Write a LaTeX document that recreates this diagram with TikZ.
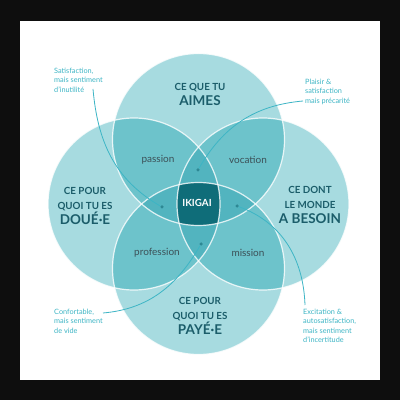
\documentclass[tikz,border=0pt]{standalone}
\usepackage{fontspec}
\setmainfont{Lato}
\usepackage{tikz}
\usetikzlibrary{arrows.meta}
\usetikzlibrary{calc}

\definecolor{ringA}{HTML}{A7DBE0}
\definecolor{ringB}{HTML}{6DC3CB}
\definecolor{ringC}{HTML}{52B4BF}
\definecolor{ringD}{HTML}{0F6D79}
\definecolor{headtxt}{HTML}{1B5D6A}
\definecolor{areatxt}{HTML}{3C5057}
\definecolor{notetxt}{HTML}{3DB5C5}
\definecolor{frame}{HTML}{0E0E0E}

\begin{document}
\begin{tikzpicture}[x=1pt, y=1pt,
  head/.style={align=center, text=headtxt, font=\bfseries\fontsize{9.8}{14.5}\selectfont, inner sep=0},
  area/.style={text=areatxt, font=\fontsize{10}{11}\selectfont, inner sep=0},
  note/.style={align=left, anchor=north west, text=notetxt, font=\fontsize{7.3}{9.3}\selectfont, inner sep=0},
  dot/.style={circle, fill=notetxt!75!black, inner sep=0, minimum size=3.5pt},
  link/.style={notetxt, line width=0.8pt}]

\def\rad{86pt}
\fill[frame] (0,0) rectangle (400,400);
\fill[white] (20,20) rectangle (380,379);

\coordinate (top) at (198.5,260.5);
\coordinate (bot) at (198.5,131.5);
\coordinate (lft) at (134,196);
\coordinate (rgt) at (263,196);

% one circle
\foreach \c in {top,bot,lft,rgt}
  \fill[ringA] (\c) circle[radius=\rad];
% two circles
\begin{scope}
  \clip (top) circle[radius=\rad];
  \fill[ringB] (lft) circle[radius=\rad];
  \fill[ringB] (rgt) circle[radius=\rad];
\end{scope}
\begin{scope}
  \clip (bot) circle[radius=\rad];
  \fill[ringB] (lft) circle[radius=\rad];
  \fill[ringB] (rgt) circle[radius=\rad];
\end{scope}
% three circles
\begin{scope}
  \clip (top) circle[radius=\rad];
  \clip (bot) circle[radius=\rad];
  \fill[ringC] (lft) circle[radius=\rad];
  \fill[ringC] (rgt) circle[radius=\rad];
\end{scope}
\begin{scope}
  \clip (lft) circle[radius=\rad];
  \clip (rgt) circle[radius=\rad];
  \fill[ringC] (top) circle[radius=\rad];
  \fill[ringC] (bot) circle[radius=\rad];
\end{scope}
% all four
\begin{scope}
  \clip (top) circle[radius=\rad];
  \clip (bot) circle[radius=\rad];
  \clip (lft) circle[radius=\rad];
  \fill[ringD] (rgt) circle[radius=\rad];
\end{scope}
\foreach \c in {top,bot,lft,rgt}
  \draw[white, opacity=.8, line width=1.2pt] (\c) circle[radius=\rad];

\path
(200,305.5) node[head] (aimes) {CE QUE TU\\[1pt]\fontsize{13.5}{15}\selectfont AIMES}
(85,194) node[head] (doue) {CE POUR\\QUOI TU ES\\[1pt]\fontsize{13.5}{15}\selectfont DOUÉ·E}
(310,195) node[head] (besoin) {CE DONT\\LE MONDE\\[1pt]\fontsize{13.5}{15}\selectfont A BESOIN}
(200,84) node[head] (paye) {CE POUR\\QUOI TU ES\\[1pt]\fontsize{13.5}{15}\selectfont PAYÉ·E};

\path
(158,240) node[area] (passion) {passion}
(248,240) node[area] (vocation) {vocation}
(157,147) node[area] (profession) {profession}
(248,147) node[area] (mission) {mission}
(197,197) node[text=white, font=\bfseries\fontsize{9.8}{11}\selectfont, inner sep=0] (ikigai) {IKIGAI};

\path
(162,193) node[dot] (dlft) {}
(198,230) node[dot] (dtop) {}
(237,194) node[dot] (drgt) {}
(201,156) node[dot] (dbot) {};

\path
(54,332) node[note] (sat) {Satisfaction,\\mais sentiment\\d’inutilité}
(305,321) node[note] (plaisir) {Plaisir \&\\satisfaction\\mais précarité}
(54,91) node[note] (confort) {Confortable,\\mais sentiment\\de vide}
(303,91) node[note] (excit) {Excitation \&\\autosatisfaction,\\mais sentiment\\d’incertitude};

\coordinate (satend) at (93,311);
\coordinate (plaisirend) at (303,299);
\coordinate (confortend) at (103,87);
\coordinate (excitend) at (305,95);

\draw[link] (satend) to[out=275,in=150] (dlft);
\draw[link] (plaisirend) to[out=185,in=60] (dtop);
\draw[link] (confortend) to[out=5,in=240] (dbot);
\draw[link] (drgt) to[out=-20,in=92] (excitend);

\end{tikzpicture}
\end{document}
